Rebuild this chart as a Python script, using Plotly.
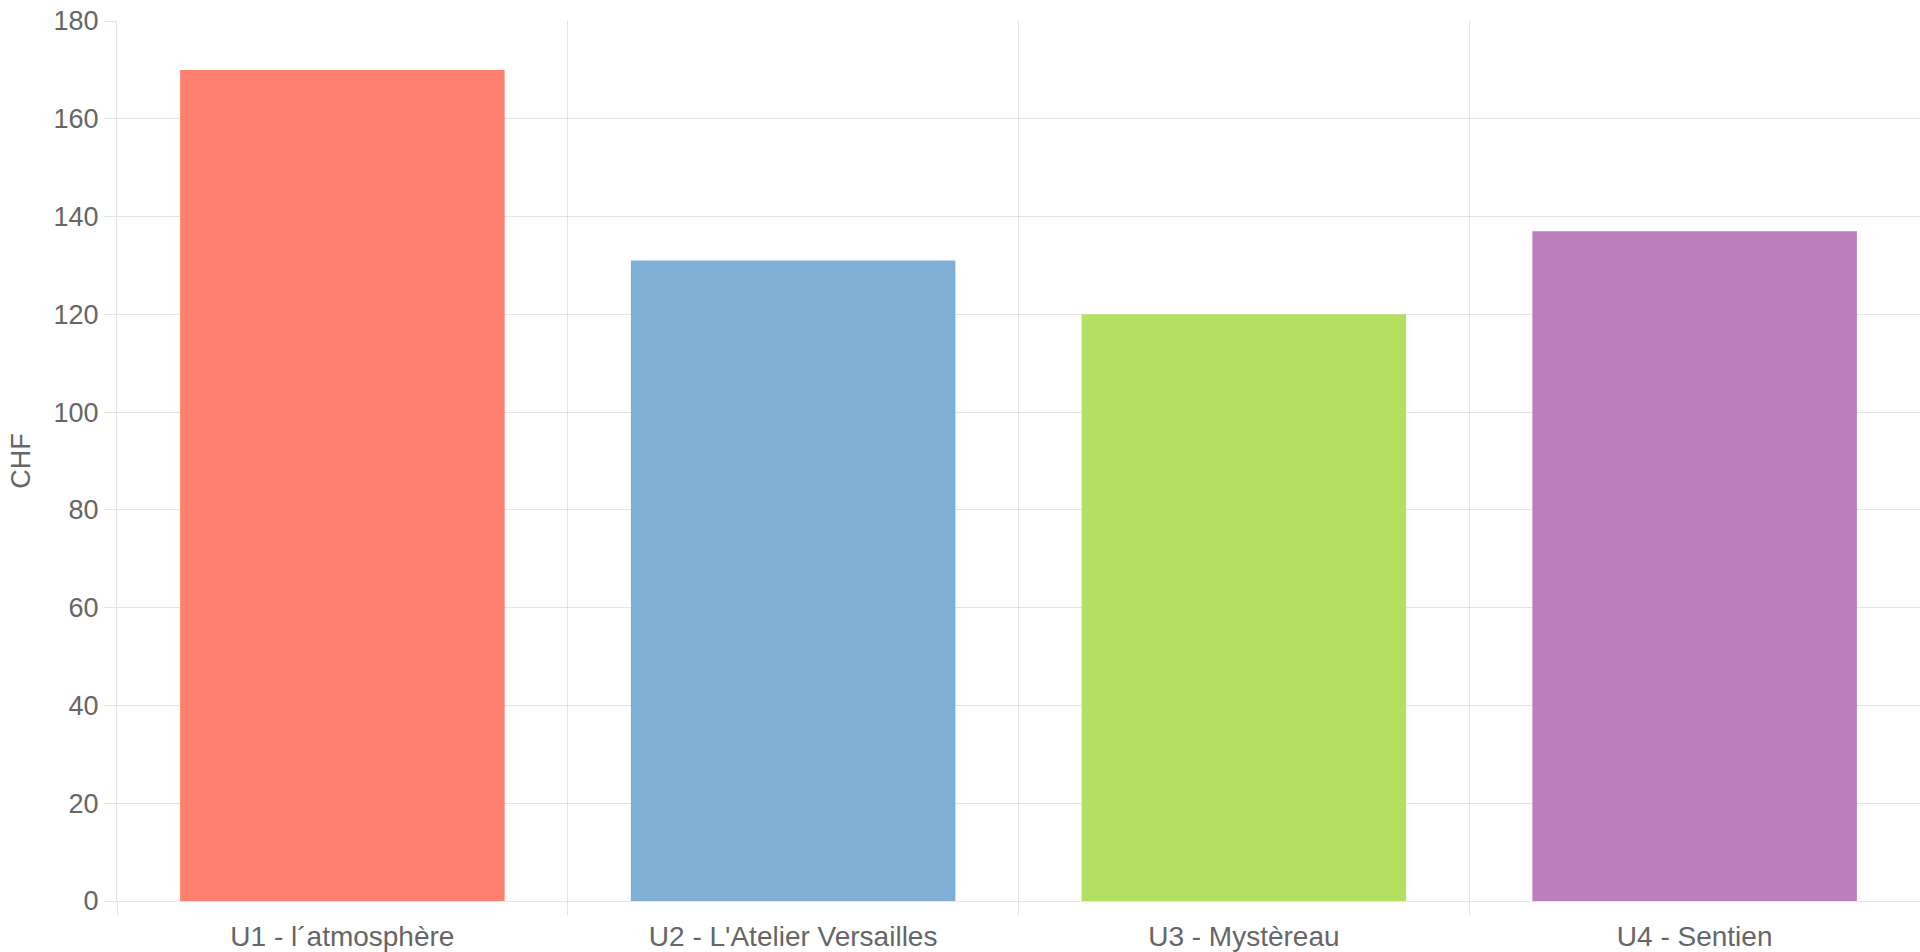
import plotly.graph_objects as go

categories = ["U1 - l´atmosphère", "U2 - L'Atelier Versailles", "U3 - Mystèreau", "U4 - Sentien"]
values = [170, 131, 120, 137]
colors = ["#FF7F6E", "#7FAFD5", "#B3E061", "#BD7EBE"]
y_ticks = [0, 20, 40, 60, 80, 100, 120, 140, 160, 180]

fig = go.Figure(go.Bar(x=categories, y=values, marker=dict(color=colors, line=dict(width=0)),
                       showlegend=False))

grid = "rgba(0,0,0,0.1)"
font = dict(family="Liberation Sans, Arial, Helvetica, sans-serif", color="#666666", size=27)

fig.update_layout(
    width=1920, height=952,
    margin=dict(l=117, r=0, t=21, b=51),
    paper_bgcolor="white", plot_bgcolor="white",
    bargap=0.28,
    font=font,
    xaxis=dict(type="category", range=[-0.5, 3.5], tickson="boundaries",
               automargin=False,
               showgrid=True, gridcolor=grid, gridwidth=1,
               ticks="outside", ticklen=13, tickcolor=grid,
               showline=True, linecolor=grid, linewidth=1,
               ticklabelstandoff=10, ticklabeloverflow="allow",
               tickfont=dict(size=28)),
    yaxis=dict(range=[0, 180], tickvals=y_ticks, showgrid=True, gridcolor=grid,
               automargin=False,
               ticks="outside", ticklen=12, tickcolor=grid,
               showline=True, linecolor=grid, zeroline=False,
               ticklabelstandoff=0, ticklabeloverflow="allow",
               tickfont=dict(size=27),
               title=dict(text="CHF", font=dict(size=27), standoff=15)),
)

fig.write_html(
    "out.html",
    config={"displayModeBar": False},
    post_script="document.body.style.margin='0';document.body.style.overflow='hidden';",
)
